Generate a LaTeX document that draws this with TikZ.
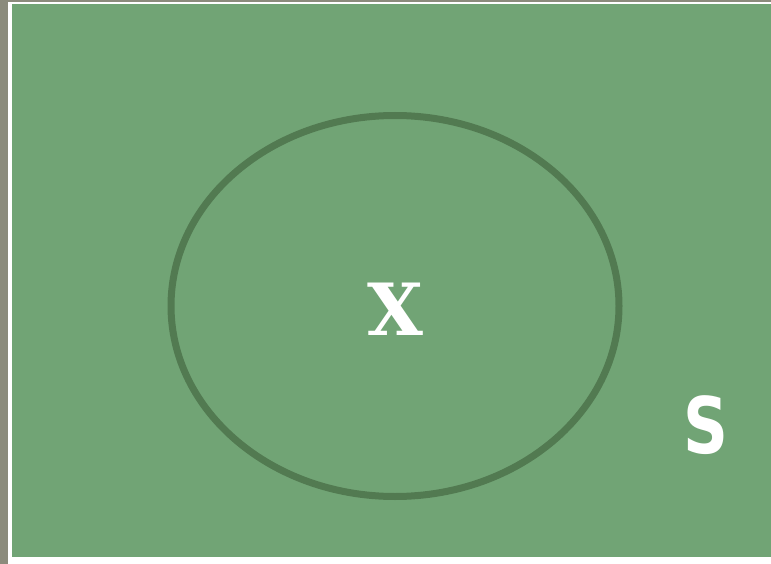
\documentclass[tikz,border=0pt]{standalone}
\usepackage{fontspec}
\usepackage{xcolor}
\usepackage{tikz}
\usetikzlibrary{shapes.geometric}
\newfontfamily\slabfont{DejaVu Serif}
\newfontfamily\heavyfont{DejaVu Sans}
\definecolor{setgreen}{HTML}{71A475}
\definecolor{ringgreen}{HTML}{527A51}
\definecolor{edgegray}{HTML}{8B8B7C}

\begin{document}
\begin{tikzpicture}[x=1pt, y=-1pt,
  setlabel/.style={text=white, inner sep=0pt}]
\useasboundingbox (0,0) rectangle (771,564);
% Frame
\fill[white] (0,0) rectangle (771,564);
\fill[edgegray] (0,0) rectangle (8,564);
\fill[edgegray] (0,0) rectangle (771,2);
% Universe S
\fill[setgreen] (12,4) rectangle (771,557);
% Set X
\node[ellipse, draw=ringgreen, line width=7pt, minimum width=448pt, minimum height=381pt,
  inner sep=0pt] (setx) at (395,306) {};
\node[setlabel, font=\slabfont\bfseries\fontsize{72}{72}\selectfont] (labx) at (395,309) {X};
\node[setlabel, xscale=0.8, font=\heavyfont\bfseries\fontsize{78}{78}\selectfont] (labs) at (706,425) {S};
\end{tikzpicture}
\end{document}
